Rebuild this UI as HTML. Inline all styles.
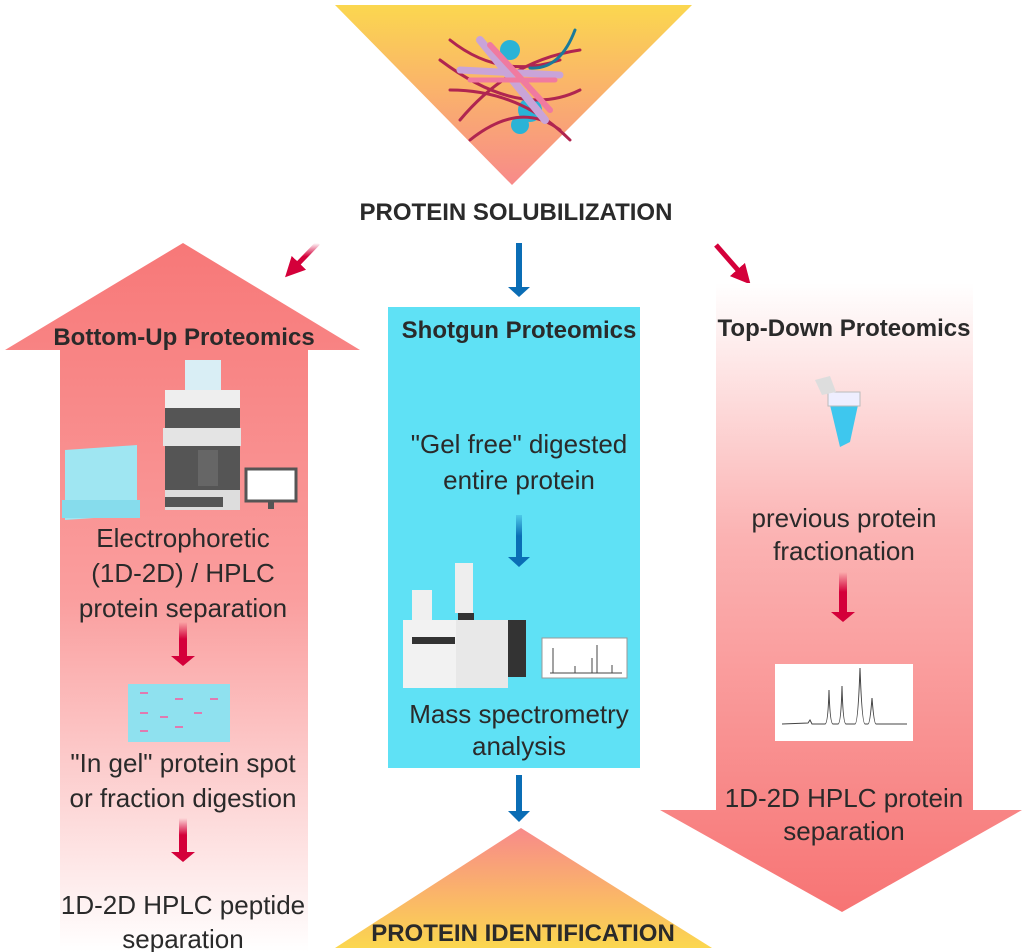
<!DOCTYPE html>
<html><head><meta charset="utf-8"><style>
html,body{margin:0;padding:0;background:#fff;}
svg{display:block;}
text{font-family:"Liberation Sans",sans-serif;fill:#2a2a2a;}
.b{font-weight:bold;font-size:24px;}
.n{font-size:26px;text-anchor:middle;}
</style></head><body>
<svg width="1024" height="952" viewBox="0 0 1024 952" xmlns="http://www.w3.org/2000/svg">
<defs>
<linearGradient id="gt" x1="0" y1="0" x2="0" y2="1"><stop offset="0" stop-color="#fbd74f"/><stop offset="1" stop-color="#f88a8a"/></linearGradient>
<linearGradient id="gb" x1="0" y1="0" x2="0" y2="1"><stop offset="0" stop-color="#f88a8a"/><stop offset="1" stop-color="#fbd74f"/></linearGradient>
<linearGradient id="gl" x1="0" y1="0" x2="0" y2="1"><stop offset="0" stop-color="#f77878"/><stop offset="0.5" stop-color="#fa9e9e"/><stop offset="1" stop-color="#ffffff"/></linearGradient>
<linearGradient id="gr" x1="0" y1="0" x2="0" y2="1"><stop offset="0" stop-color="#ffffff"/><stop offset="0.4" stop-color="#fbb3b3"/><stop offset="1" stop-color="#f77474"/></linearGradient>
<linearGradient id="rs" x1="0" y1="0" x2="0" y2="1"><stop offset="0" stop-color="#d4003a" stop-opacity="0"/><stop offset="0.5" stop-color="#d4003a"/></linearGradient>
<linearGradient id="bs" x1="0" y1="0" x2="0" y2="1"><stop offset="0" stop-color="#0a6db5" stop-opacity="0.2"/><stop offset="0.5" stop-color="#0a6db5"/></linearGradient>
<marker id="ar" markerWidth="4" markerHeight="4" refX="2" refY="2" orient="auto"><path d="M0,0 L4,2 L0,4z" fill="#d4003a"/></marker>
</defs>

<polygon points="335,5 692,5 512,185" fill="url(#gt)"/>
<g stroke-linecap="round" fill="none">
<circle cx="510" cy="50" r="10" fill="#2ab3d6"/><circle cx="530" cy="110" r="12" fill="#2ab3d6"/><circle cx="520" cy="125" r="9" fill="#2ab3d6"/>
<path d="M450,40 Q500,80 560,60 M440,60 Q520,120 580,90 M450,90 Q520,90 570,140 M460,120 Q510,60 580,50 M470,140 Q520,100 560,130" stroke="#b02550" stroke-width="3"/>
<path d="M480,40 L545,120" stroke="#c9a4d8" stroke-width="8"/><path d="M460,70 L560,75" stroke="#c9a4d8" stroke-width="7"/>
<path d="M490,45 L550,110" stroke="#f07aa0" stroke-width="6"/><path d="M470,80 L555,80" stroke="#f07aa0" stroke-width="5"/>
<path d="M575,30 Q560,70 530,68" stroke="#1a7a9a" stroke-width="3"/>
</g>
<text x="516" y="220" class="b" text-anchor="middle">PROTEIN SOLUBILIZATION</text>

<line x1="318" y1="243" x2="292" y2="270" stroke="url(#rs)" stroke-width="5" marker-end="url(#ar)"/>
<line x1="716" y1="245" x2="744" y2="277" stroke="#d4003a" stroke-width="5" marker-end="url(#ar)"/>
<rect x="516" y="243" width="6" height="44" fill="#0a6db5"/><polygon points="508,287 530,287 519,297" fill="#0a6db5"/>

<polygon points="183,243 360,350 308,350 308,952 60,952 60,350 5,350" fill="url(#gl)"/>
<text x="184" y="345" class="b" text-anchor="middle">Bottom-Up Proteomics</text>
<polygon points="65,450 137,445 137,515 65,520" fill="#9fe6f2"/><rect x="62" y="500" width="78" height="18" fill="#86dcec"/>
<rect x="185" y="360" width="36" height="30" fill="#d9eef5"/>
<rect x="165" y="390" width="75" height="18" fill="#eee"/><rect x="165" y="408" width="75" height="20" fill="#555"/>
<rect x="163" y="428" width="78" height="18" fill="#e4e4e4"/><rect x="165" y="446" width="75" height="44" fill="#555"/>
<rect x="198" y="450" width="20" height="36" fill="#666"/><rect x="165" y="490" width="75" height="20" fill="#ddd"/><rect x="165" y="497" width="58" height="10" fill="#555"/>
<rect x="246" y="469" width="50" height="32" fill="#fff" stroke="#555" stroke-width="3"/><rect x="268" y="501" width="6" height="8" fill="#555"/>
<text x="183" y="547" class="n">Electrophoretic</text>
<text x="183" y="582" class="n">(1D-2D) / HPLC</text>
<text x="183" y="617" class="n">protein separation</text>
<rect x="179" y="622" width="8" height="34" fill="url(#rs)"/><polygon points="171,656 195,656 183,666" fill="#d4003a"/>
<rect x="128" y="684" width="102" height="58" fill="#8fe1ef"/>
<g fill="#e07ab0"><rect x="140" y="692" width="8" height="2"/><rect x="175" y="698" width="8" height="2"/><rect x="210" y="698" width="8" height="2"/><rect x="140" y="712" width="8" height="2"/><rect x="160" y="716" width="8" height="2"/><rect x="194" y="712" width="8" height="2"/><rect x="140" y="730" width="8" height="2"/><rect x="175" y="726" width="8" height="2"/></g>
<text x="183" y="772" class="n">"In gel" protein spot</text>
<text x="183" y="807" class="n">or fraction digestion</text>
<rect x="179" y="818" width="8" height="34" fill="url(#rs)"/><polygon points="171,852 195,852 183,862" fill="#d4003a"/>
<text x="183" y="914" class="n">1D-2D HPLC peptide</text>
<text x="183" y="948" class="n">separation</text>

<rect x="388" y="307" width="252" height="461" fill="#5fe1f5"/>
<text x="519" y="338" class="b" text-anchor="middle">Shotgun Proteomics</text>
<text x="519" y="453" class="n">"Gel free" digested</text>
<text x="519" y="489" class="n">entire protein</text>
<rect x="516" y="515" width="6" height="42" fill="url(#bs)"/><polygon points="508,557 530,557 519,567" fill="#0a6db5"/>
<rect x="455" y="563" width="18" height="50" fill="#eee"/><rect x="458" y="613" width="16" height="20" fill="#333"/>
<rect x="412" y="590" width="20" height="30" fill="#f0f0f0"/>
<rect x="403" y="620" width="53" height="68" fill="#f2f2f2"/><rect x="412" y="637" width="43" height="7" fill="#333"/>
<rect x="456" y="620" width="52" height="68" fill="#e8e8e8"/><rect x="508" y="620" width="18" height="57" fill="#333"/>
<rect x="542" y="638" width="85" height="40" fill="#fff" stroke="#999"/>
<g stroke="#444" stroke-width="1"><line x1="553" y1="673" x2="553" y2="648"/><line x1="575" y1="673" x2="575" y2="666"/><line x1="592" y1="673" x2="592" y2="658"/><line x1="597" y1="673" x2="597" y2="645"/><line x1="612" y1="673" x2="612" y2="665"/><line x1="550" y1="673" x2="622" y2="673"/></g>
<text x="519" y="723" class="n">Mass spectrometry</text>
<text x="519" y="755" class="n">analysis</text>
<rect x="516" y="775" width="6" height="36" fill="#0a6db5"/><polygon points="508,811 530,811 519,822" fill="#0a6db5"/>

<polygon points="521,828 712,948 335,948" fill="url(#gb)"/>
<text x="523" y="941" class="b" text-anchor="middle">PROTEIN IDENTIFICATION</text>

<polygon points="716,283 973,283 973,810 1022,810 842,912 660,810 716,810" fill="url(#gr)"/>
<text x="844" y="336" class="b" text-anchor="middle">Top-Down Proteomics</text>
<polygon points="830,405 858,405 850,442 840,447" fill="#3ec7ee"/><rect x="828" y="392" width="32" height="14" fill="#eef" stroke="#bbb"/><polygon points="815,380 830,376 836,392 822,395" fill="#ddd"/>
<text x="844" y="527" class="n">previous protein</text>
<text x="844" y="560" class="n">fractionation</text>
<rect x="839" y="572" width="8" height="40" fill="url(#rs)"/><polygon points="831,612 855,612 843,622" fill="#d4003a"/>
<rect x="775" y="664" width="138" height="77" fill="#fff"/>
<path d="M782,724 L808,723 L810,720 L812,724 L825,724 Q828,724 829,690 Q830,724 833,724 L838,724 Q841,724 842,686 Q843,724 846,724 L855,724 Q858,724 860,668 Q862,724 865,724 L868,724 Q870,724 872,698 Q874,724 876,724 L907,724" stroke="#444" fill="none"/>
<text x="844" y="807" class="n">1D-2D HPLC protein</text>
<text x="844" y="840" class="n">separation</text>
</svg>
</body></html>
